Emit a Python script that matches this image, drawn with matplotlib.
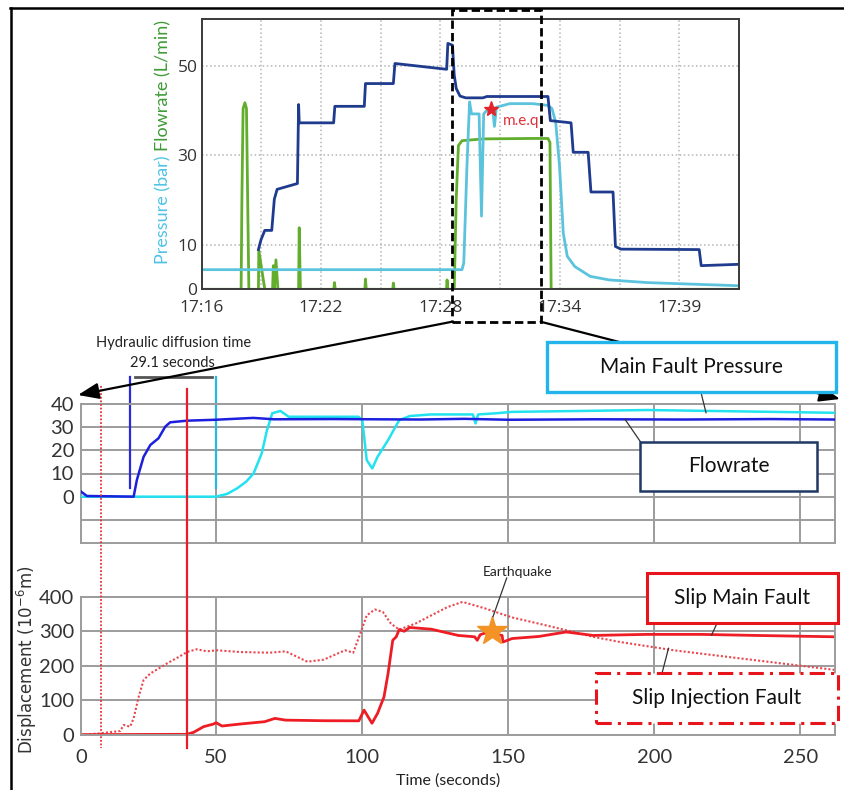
import matplotlib
matplotlib.use("Agg")
import matplotlib.pyplot as plt
from matplotlib.patches import Rectangle, FancyArrowPatch
from matplotlib.lines import Line2D
from matplotlib.transforms import blended_transform_factory

# ---------------- data: top panel (minutes after 17:16) ----------------
top_tick_pos = [0, 6, 12, 18, 24]
top_tick_lab = ["17:16", "17:22", "17:28", "17:34", "17:39"]

navy_t = [2.85, 2.98, 3.17, 3.52, 3.65, 3.79, 4.81, 4.87, 4.90, 6.63, 6.69, 8.17, 8.23,
          9.63, 9.71, 12.31, 12.37, 12.60, 12.69, 12.79, 12.98, 13.27, 14.13, 14.33,
          17.40, 17.52, 18.56, 18.67, 19.42, 19.56, 20.67, 20.79, 21.06, 25.0, 25.1, 27.0]
navy_v = [8.9, 11.1, 13.2, 13.2, 20.2, 22.4, 23.7, 41.4, 37.3, 37.3, 41.0, 41.0, 46.1,
          46.1, 50.6, 49.3, 55.1, 54.7, 48.0, 45.0, 43.3, 42.9, 42.9, 43.2,
          43.2, 37.8, 37.3, 30.7, 30.7, 21.8, 21.8, 9.6, 9.0, 8.9, 5.3, 5.6]

cyan_t = [0, 13.08, 13.17, 13.33, 13.46, 13.56, 13.94, 14.06, 14.17, 14.33, 14.62, 14.71,
          14.81, 15.48, 16.63, 17.40, 17.60, 17.79, 17.98, 18.17, 18.37, 18.75, 19.52,
          20.48, 22.40, 24.33, 27.0]
cyan_v = [4.4, 4.4, 5.9, 27.7, 42.0, 39.3, 39.3, 16.4, 39.3, 40.1, 40.5, 36.5,
          40.8, 41.6, 41.6, 41.2, 40.5, 37.4, 27.7, 12.6, 7.4, 5.1, 2.9,
          2.1, 1.5, 1.2, 0.8]

green_t = [0, 1.98, 2.02, 2.08, 2.17, 2.25, 2.31, 2.37, 2.85, 2.87, 3.17, 3.56, 3.60, 3.65,
           3.73, 3.83, 4.87, 4.90, 4.96, 6.64, 6.67, 6.71, 8.20, 8.23, 8.27, 9.60, 9.63,
           9.67, 12.30, 12.33, 12.37, 12.69, 12.79, 12.90, 13.08, 14.13, 16.63, 17.40,
           17.50, 17.56, 27.0]
green_v = [0, 0, 20.2, 40.5, 41.8, 40.5, 20.2, 0, 0, 8.7, 0, 0, 5.3, 0,
           6.6, 0, 0, 13.8, 0, 0, 1.5, 0, 0, 2.3, 0, 0, 1.4,
           0, 0, 2.1, 0, 0, 20.2, 32.2, 33.3, 33.7, 33.8, 33.8,
           32.9, 0, 0]

meq_t, meq_v = 14.55, 40.3
box_t0, box_t1 = 12.59, 17.03   # zoomed window (minutes)

# ---------------- data: middle panel (seconds) ----------------
flow_t = [4.0, 6.0, 22.0, 23.1, 25.4, 27.7, 30.5, 32.8, 34.5, 40.2, 50, 62.9, 70, 90,
          120, 135, 150, 180, 210, 240, 262]
flow_v = [2.2, 0.3, 0.0, 7.2, 17.2, 22.3, 25.2, 30.2, 32.1, 32.8, 33.2, 34.0, 33.4, 33.5,
          33.3, 33.6, 33.2, 33.4, 33.3, 33.5, 33.3]

pres_t = [4, 50.1, 54, 57.4, 60.5, 63.0, 65.8, 67.6, 69.4, 72.2, 75, 87, 98.9, 100.2,
          101.7, 103.6, 105.4, 109, 112.8, 116.4, 123.7, 138.0, 138.9, 139.8, 146,
          151.4, 175, 197.5, 230, 262]
pres_v = [0, 0, 1.2, 3.6, 6.5, 10, 18.7, 28.7, 36, 37, 34.5, 34.5, 34.5, 33,
          15.8, 12.2, 17.2, 24.4, 33, 34.8, 35.5, 35.5, 31.6, 35.5, 36,
          36.6, 37, 37.4, 36.8, 36.2]

# ---------------- data: bottom panel (seconds, 1e-6 m) ----------------
main_t = [4, 40.2, 42.5, 45.9, 49.3, 50.2, 52.2, 58.4, 66.8, 70.3, 74, 87, 99, 100.8,
          103.5, 105.4, 107.6, 109, 110.6, 111.8, 112.8, 114.5, 116.4, 123.8, 133,
          138.6, 139.5, 140.5, 142.2, 148, 148.3, 151.4, 160.6, 169.9, 179.1, 197.5,
          216, 234.5, 262]
main_v = [1, 2, 7.7, 24, 31.7, 35.6, 26, 31.7, 38.5, 48, 43, 41.3, 41, 72,
          34, 62.5, 110, 178, 274, 284, 305, 300, 311, 306, 288,
          284, 274, 290, 295, 288, 269, 279, 285, 298, 288, 291,
          291, 288, 284]

inj_t = [4, 10.6, 17.4, 18.6, 20.8, 22, 23.7, 25.4, 27.7, 30.5, 33.4, 37.9, 40.2, 43.6,
         47.1, 50.5, 58.4, 68.5, 74, 81.4, 87, 94.3, 97.1, 99.9, 101.7, 104.5, 107.2,
         110, 112.8, 118.3, 123.8, 129.3, 134.5, 142.2, 151.4, 160.6, 169.9, 179.1,
         188.3, 206.7, 225.1, 243.6, 262]
inj_v = [0, 5, 11.5, 29, 24, 48, 110, 159, 178, 192, 207, 228, 240, 248,
         242, 245, 240, 238, 242, 212, 218, 245, 238, 303, 346, 363, 356,
         322, 305, 322, 346, 370, 385, 366, 340, 322, 303, 284,
         269, 245, 226, 207, 188]

quake_t, quake_v = 144.5, 300
t_dot, t_red = 10.8, 40.2          # red reference lines
t_flow_on, t_pres_on = 20.8, 50.1  # hydraulic diffusion markers
bot_ticks = [4, 50, 100, 150, 200, 250]
bot_labels = ["0", "50", "100", "150", "200", "250"]

# ---------------- figure ----------------
W, H = 845, 790
fig = plt.figure(figsize=(W / 100, H / 100), dpi=100)
NARROW = ["Liberation Sans Narrow", "Lato", "DejaVu Sans"]


def P(x, y):
    return (x / W, 1 - y / H)


def rect(l, t, r, b):
    return [l / W, 1 - b / H, (r - l) / W, (b - t) / H]


def line(x0, y0, x1, y1, **kw):
    fig.add_artist(Line2D([x0 / W, x1 / W], [1 - y0 / H, 1 - y1 / H],
                          transform=fig.transFigure, **kw))


# outer frame (top + left)
line(10, 8, 845, 8, color="k", lw=1.8)
line(11, 8, 11, 790, color="k", lw=1.8)

# ---- top panel
ax_top = fig.add_axes(rect(201.7, 19.3, 739, 289.3))
ax_top.plot(green_t, green_v, color="#62ad2c", lw=2)
ax_top.plot(cyan_t, cyan_v, color="#5cc3dc", lw=2)
ax_top.plot(navy_t, navy_v, color="#1f3b8e", lw=2)
ax_top.plot(meq_t, meq_v, marker="*", color="#e3242b", ms=11, ls="none")
ax_top.text(meq_t + 0.6, meq_v - 2.5, "m.e.q", color="#e0303a", fontsize=11,
            family="Lato", va="center")
ax_top.set_xlim(0, 27)
ax_top.set_ylim(0, 60.5)
ax_top.set_xticks(top_tick_pos)
ax_top.set_xticklabels(top_tick_lab)
ax_top.set_xticks(range(0, 28, 3), minor=True)
ax_top.set_yticks([0, 10, 30, 50])
ax_top.grid(True, which="both", color="#b5b5b5", ls=":", lw=1.1)
ax_top.tick_params(which="both", length=0, labelsize=12.5, labelcolor="#333333")
ax_top.tick_params(axis="x", pad=8)
ax_top.tick_params(axis="y", pad=3)
for lab in ax_top.get_xticklabels() + ax_top.get_yticklabels():
    lab.set_family("Open Sans")
for s in ax_top.spines.values():
    s.set_color("#3a3a3a")
    s.set_linewidth(1.4)

# two-coloured y label, drawn as one continuous line of text
t_p = fig.text(*P(163, 264), "Pressure (bar) ", rotation=90, color="#4ec3e6",
               fontsize=13, family="Lato", ha="center", va="bottom")
fig.canvas.draw()
ext = t_p.get_window_extent().transformed(fig.transFigure.inverted())
fig.text(163 / W, ext.y1, "Flowrate (L/min)", rotation=90, color="#3d9b35",
         fontsize=13, family="Lato", ha="center", va="bottom")

# zoom box and connectors (behind the label boxes)
to_fig = fig.transFigure.inverted()
bx0 = to_fig.transform(ax_top.transData.transform((box_t0, 0)))[0]
bx1 = to_fig.transform(ax_top.transData.transform((box_t1, 0)))[0]
yb, yt = 1 - 321.7 / H, 1 - 10 / H
fig.add_artist(Rectangle((bx0, yb), bx1 - bx0, yt - yb, transform=fig.transFigure,
                         fill=False, ec="k", lw=2, ls=(0, (3, 1.5)), zorder=5))
for xa, xb, yy in [(bx0, 78 / W, 395), (bx1, 840 / W, 399)]:
    fig.add_artist(FancyArrowPatch((xa, yb), (xb, 1 - yy / H), transform=fig.transFigure,
                                   arrowstyle="-|>,head_length=0.9,head_width=0.35",
                                   mutation_scale=14, lw=1.6, color="k",
                                   shrinkA=0, shrinkB=0, zorder=5))

# ---- middle panel
ax_mid = fig.add_axes(rect(81, 404, 835.5, 543))
ax_mid.plot(pres_t, pres_v, color="#22e2f0", lw=1.8, zorder=3)
ax_mid.plot(flow_t, flow_v, color="#1c1fdc", lw=1.8, zorder=3)
ax_mid.plot([t_flow_on, t_flow_on], [3.8, 51.7], color="#2a2ad8", lw=1.6, clip_on=False)
ax_mid.plot([t_pres_on, t_pres_on], [3.8, 51.7], color="#29b6e0", lw=1.6, clip_on=False)
ax_mid.plot([22.5, 48.8], [51.7, 51.7], color="#555555", lw=2, clip_on=False)
ax_mid.set_ylim(-20, 40)
ax_mid.set_yticks([-10, 0, 10, 20, 30, 40])
ax_mid.set_yticklabels(["", "0", "10", "20", "30", "40"])

# ---- bottom panel
ax_bot = fig.add_axes(rect(81, 596.7, 835.5, 735))
ax_bot.plot(inj_t, inj_v, color="#e8474e", lw=1.5, ls=(0, (1, 1)))
ax_bot.plot(main_t, main_v, color="#ee1c24", lw=2)
ax_bot.plot(quake_t, quake_v, marker="*", color="#f39325", ms=22, ls="none", zorder=5)
ax_bot.set_ylim(0, 400)
ax_bot.set_yticks([0, 100, 200, 300, 400])

for ax in (ax_mid, ax_bot):
    ax.set_xlim(4, 262)
    ax.set_xticks(bot_ticks)
    ax.grid(True, color="#9c9c9c", lw=1.4)
    ax.set_axisbelow(True)
    ax.tick_params(length=0, labelsize=14.5, labelcolor="#333333", pad=5)
    for s in ax.spines.values():
        s.set_color("#9c9c9c")
        s.set_linewidth(1.4)
ax_mid.tick_params(labelbottom=False)
ax_bot.set_xticklabels(bot_labels)
ax_bot.tick_params(axis="x", pad=10)
for ax in (ax_mid, ax_bot):
    for lab in ax.get_xticklabels() + ax.get_yticklabels():
        lab.set_family(NARROW)

# red reference lines spanning both panels
bt = blended_transform_factory(ax_bot.transData, fig.transFigure)
fig.add_artist(Line2D([t_dot, t_dot], [1 - 386 / H, 1 - 748 / H], transform=bt,
                      color="#e8303a", lw=1.3, ls=(0, (1, 1))))
fig.add_artist(Line2D([t_red, t_red], [1 - 389 / H, 1 - 748 / H], transform=bt,
                      color="#ea1c2a", lw=1.6))

# ---- texts and boxes
fig.text(*P(173.6, 343.3), "Hydraulic diffusion time", family=NARROW, fontsize=10.5,
         ha="center", va="center", color="#222222")
fig.text(*P(172.5, 363.3), "29.1 seconds", family=NARROW, fontsize=10.5,
         ha="center", va="center", color="#222222")
fig.text(*P(517.5, 571.7), "Earthquake", family=NARROW, fontsize=10,
         ha="center", va="center", color="#222222")
fig.text(*P(448, 781), "Time (seconds)", family=NARROW, fontsize=11.5,
         ha="center", va="center", color="#222222")
fig.text(*P(27, 660), "Displacement (10$^{-6}$m)", rotation=90, fontsize=12,
         ha="center", va="center", color="#333333")


def label_box(l, t, r, b, text, ec, ls="-", lw=2.2):
    fig.add_artist(Rectangle((l / W, 1 - b / H), (r - l) / W, (b - t) / H,
                             transform=fig.transFigure, fc="white", ec=ec, lw=lw, ls=ls,
                             zorder=6))
    fig.text((l + r) / 2 / W, 1 - (t + b) / 2 / H, text, family="Lato", fontsize=15,
             ha="center", va="center", color="#111111", zorder=7)


label_box(547, 341.7, 835.6, 391.7, "Main Fault Pressure", "#22b4ea", lw=2.4)
label_box(640.4, 441.7, 816.7, 490.7, "Flowrate", "#1f3864", lw=1.8)
label_box(647, 573.3, 838, 623.3, "Slip Main Fault", "#e8141c", lw=2.2)
label_box(595.7, 673.3, 838, 722.7, "Slip Injection Fault", "#e8141c",
          ls=(0, (5, 2, 1, 2)), lw=2.2)

# leader lines
line(700.8, 391.7, 706, 412.7, color="#333333", lw=0.9)
line(625, 419.3, 641.5, 443.3, color="#333333", lw=0.9)
line(717, 623.3, 711.6, 635, color="#333333", lw=0.9)
line(662, 673.3, 668.5, 648.3, color="#333333", lw=0.9)
line(506.7, 578, 493, 616.7, color="#333333", lw=0.9)

fig.savefig("out.png", dpi=100)
